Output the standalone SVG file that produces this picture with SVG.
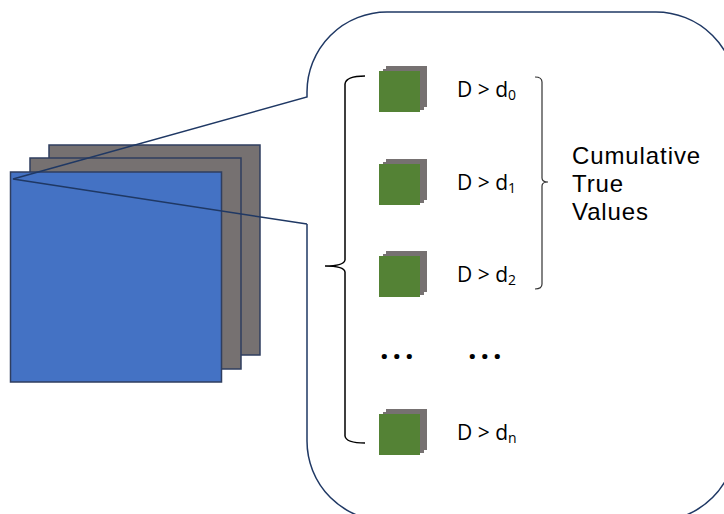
<svg xmlns="http://www.w3.org/2000/svg" width="724" height="514" viewBox="0 0 724 514">
  <style>
    .plate { fill: #767171; stroke: #2F3E5F; stroke-width: 1.5; }
    .front { fill: #4472C4; stroke: #2F3E5F; stroke-width: 1.5; }
    .chip-back { fill: #767171; }
    .chip-front { fill: #548235; }
    .label { font-family: "Open Sans", "Liberation Sans", sans-serif; font-size: 21px; fill: #000; }
    .sub { font-size: 14px; }
    .note { font-family: "Liberation Sans", Arial, sans-serif; font-size: 24px; fill: #000; letter-spacing: 0.9px; }
    .dots { font-family: "Open Sans", "Liberation Sans", sans-serif; font-size: 30px; font-weight: bold; fill: #000; letter-spacing: 4px; }
    .callout { fill: none; stroke: #1F3864; stroke-width: 1.5; stroke-linejoin: miter; }
    .brace { fill: none; stroke: #000; stroke-width: 1.5; }
    .bracket { fill: none; stroke: #333; stroke-width: 1.2; }
  </style>
  <defs>
    <!-- one stacked chip: two gray layers behind a green face -->
    <g id="chip">
      <rect class="chip-back" x="7" y="-5" width="41" height="41"/>
      <rect class="chip-back" x="4" y="-2" width="41" height="41"/>
      <rect class="chip-front" x="0" y="0" width="41" height="41"/>
    </g>
  </defs>

  <!-- stack of feature maps -->
  <g id="feature-stack">
    <rect class="plate" x="49" y="145" width="211" height="210"/>
    <rect class="plate" x="30" y="158" width="211" height="211"/>
    <rect class="front" x="10.5" y="172" width="211" height="210"/>
  </g>

  <!-- callout bubble with its pointer to the stack -->
  <g id="connectors">
    <path class="callout" d="M307,224 L307,441 A80,80 0 0 0 387,521 L656,521 A80,80 0 0 0 736,441 L736,92 A80,80 0 0 0 656,12 L387,12 A80,80 0 0 0 307,92 L307,97 L13,179 L307,224"/>
    <path class="brace" d="M365,76 Q346,76 345,84 L345,260 Q344,266 325,266 Q344,266 345,272 L345,436 Q346,443 365,443"/>
    <path class="bracket" d="M535,77 Q542,77 542,82 L542,178 Q542,182 548,182 Q542,182 542,186 L542,284 Q542,289 535,289"/>
  </g>

  <g id="row-0">
    <use href="#chip" x="379" y="71"/>
    <text class="label" x="457" y="97">D &gt; d<tspan class="sub" dy="3">0</tspan></text>
  </g>
  <g id="row-1">
    <use href="#chip" x="379" y="164"/>
    <text class="label" x="457" y="190">D &gt; d<tspan class="sub" dy="3">1</tspan></text>
  </g>
  <g id="row-2">
    <use href="#chip" x="379" y="256"/>
    <text class="label" x="457" y="282">D &gt; d<tspan class="sub" dy="3">2</tspan></text>
  </g>
  <g id="row-ellipsis">
    <text class="dots" x="380" y="359">...</text>
    <text class="dots" x="468" y="359">...</text>
  </g>
  <g id="row-n">
    <use href="#chip" x="379" y="414"/>
    <text class="label" x="457" y="440">D &gt; d<tspan class="sub" dy="3">n</tspan></text>
  </g>

  <g id="cumulative-label">
    <text class="note" x="572" y="164">Cumulative</text>
    <text class="note" x="572" y="192">True</text>
    <text class="note" x="572" y="220">Values</text>
  </g>
</svg>
